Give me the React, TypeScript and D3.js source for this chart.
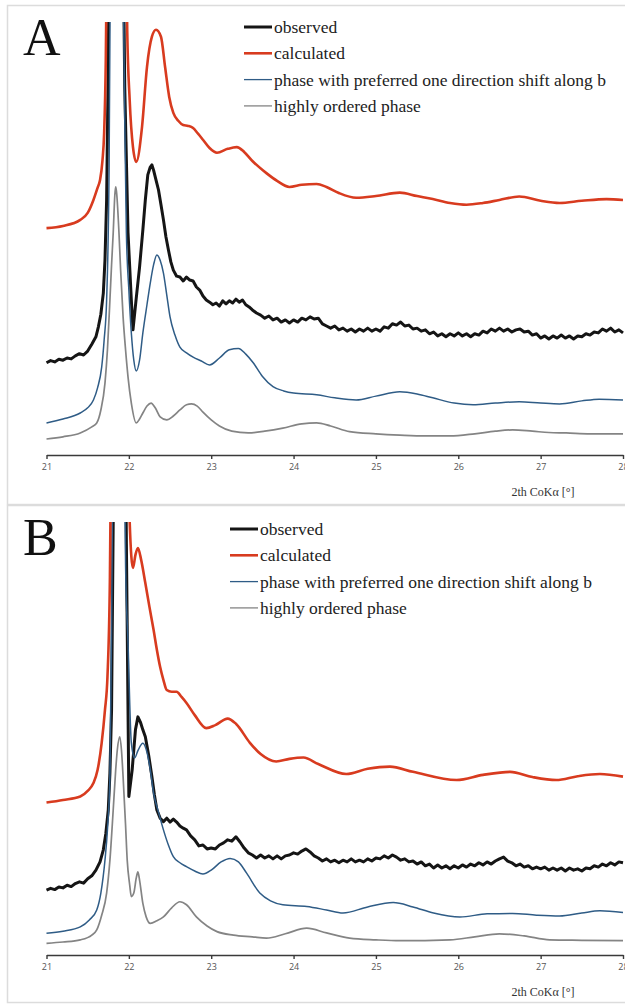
import React, { useEffect, useMemo, useRef } from 'react';
import * as d3 from 'd3';

type Pt = [number, number];

// 2θ axis ticks (degrees, Co Kα)
const THETA_TICKS = [21, 22, 23, 24, 25, 26, 27, 28];

const SERIES_LABELS = [
  'observed',
  'calculated',
  'phase with preferred one direction shift along b',
  'highly ordered phase',
];
const SERIES_COLORS = ['#151515', '#d83b1f', '#2f5c86', '#848484'];
const SERIES_WIDTHS = [3, 2.6, 1.5, 1.7];
const LEGEND_WIDTHS = [3, 2.6, 1.3, 1.3];

// ---------- Panel A (relative intensity, stacked with offsets) ----------
const obsA: Pt[] = [
  [21.0, 21.3], [21.05, 21.8], [21.1, 21.5], [21.15, 22.1], [21.2, 21.9], [21.25, 22.4], [21.3, 22.2],
  [21.35, 22.9], [21.4, 23.4], [21.45, 23.1], [21.5, 24.0], [21.55, 25.6], [21.6, 27.3], [21.63, 29.6],
  [21.66, 32.5], [21.69, 37.4], [21.71, 45.0], [21.73, 58.9], [21.75, 90], [21.77, 140], [21.85, 330],
  [21.92, 140], [21.95, 85], [21.99, 51.3], [22.03, 35.8], [22.05, 28.9], [22.09, 36.3], [22.13, 43.4],
  [22.17, 52.0], [22.2, 58.9], [22.23, 64.7], [22.26, 66.5], [22.28, 67.0], [22.3, 65.8], [22.33, 63.5],
  [22.36, 61.2], [22.39, 57.8], [22.42, 54.3], [22.45, 50.4], [22.48, 47.4], [22.51, 44.6], [22.54, 42.7],
  [22.58, 41.3], [22.62, 41.1], [22.66, 40.2], [22.7, 41.1], [22.74, 40.4], [22.78, 40.2], [22.82, 38.8],
  [22.86, 38.1], [22.9, 36.7], [22.94, 35.8], [22.98, 35.3], [23.02, 34.7], [23.06, 35.1], [23.1, 34.4],
  [23.14, 35.6], [23.18, 34.9], [23.22, 35.6], [23.26, 35.1], [23.3, 36.0], [23.34, 35.3], [23.38, 35.8],
  [23.42, 34.7], [23.46, 34.2], [23.5, 33.5], [23.55, 32.8], [23.6, 32.3], [23.65, 31.6], [23.7, 32.1],
  [23.75, 31.2], [23.8, 31.6], [23.85, 30.7], [23.9, 31.2], [23.95, 30.5], [24.0, 31.2], [24.05, 30.7],
  [24.1, 31.6], [24.15, 31.2], [24.2, 31.9], [24.25, 31.4], [24.3, 31.6], [24.35, 30.3], [24.4, 29.8],
  [24.45, 29.3], [24.5, 29.8], [24.55, 28.9], [24.6, 29.3], [24.65, 28.6], [24.7, 29.1], [24.75, 28.4],
  [24.8, 29.1], [24.85, 28.6], [24.9, 29.3], [24.95, 28.6], [25.0, 29.1], [25.05, 28.6], [25.1, 29.6],
  [25.15, 29.3], [25.2, 30.3], [25.25, 30.0], [25.3, 30.7], [25.35, 29.8], [25.4, 30.0], [25.45, 29.1],
  [25.5, 29.3], [25.55, 28.6], [25.6, 28.9], [25.65, 28.0], [25.7, 28.4], [25.75, 27.5], [25.8, 28.0],
  [25.85, 27.3], [25.9, 28.0], [25.95, 27.5], [26.0, 28.2], [26.05, 27.5], [26.1, 28.0], [26.15, 27.3],
  [26.2, 28.0], [26.25, 27.7], [26.3, 28.6], [26.35, 28.2], [26.4, 29.1], [26.45, 28.6], [26.5, 29.3],
  [26.55, 28.6], [26.6, 29.1], [26.65, 28.4], [26.7, 28.9], [26.75, 29.1], [26.8, 28.4], [26.85, 28.6],
  [26.9, 27.7], [26.95, 28.0], [27.0, 27.0], [27.05, 27.5], [27.1, 26.8], [27.15, 27.5], [27.2, 27.0],
  [27.25, 27.7], [27.3, 27.0], [27.35, 27.5], [27.4, 26.8], [27.45, 27.5], [27.5, 27.3], [27.55, 28.0],
  [27.6, 27.7], [27.65, 28.4], [27.7, 28.2], [27.75, 29.1], [27.8, 28.6], [27.85, 29.3], [27.9, 28.4],
  [27.95, 28.9], [28.0, 28.2],
];

const calcA: Pt[] = [
  [21.0, 52.4], [21.2, 52.9], [21.41, 54.3], [21.5, 55.9], [21.57, 58.9], [21.62, 61.7], [21.65, 63.5],
  [21.68, 68.1], [21.7, 74.4], [21.72, 91.2], [21.74, 130], [21.85, 300], [21.96, 130], [21.98, 98.2],
  [22.01, 82.0], [22.05, 71.1], [22.09, 67.7], [22.16, 75.8], [22.22, 89.6], [22.28, 96.6], [22.33, 98.2],
  [22.39, 96.6], [22.44, 89.6], [22.49, 82.7], [22.54, 79.0], [22.6, 77.2], [22.66, 76.2], [22.72, 76.0],
  [22.78, 75.5], [22.84, 74.2], [22.9, 72.8], [22.98, 70.9], [23.07, 69.8], [23.2, 70.7], [23.31, 71.1],
  [23.4, 70.0], [23.5, 67.9], [23.67, 65.1], [23.8, 63.3], [23.95, 61.9], [24.1, 62.4], [24.28, 62.6],
  [24.4, 61.9], [24.55, 60.5], [24.76, 59.4], [25.0, 59.8], [25.29, 60.6], [25.5, 59.8], [25.69, 59.1],
  [25.9, 58.2], [26.1, 57.8], [26.3, 58.2], [26.5, 58.9], [26.74, 59.7], [27.0, 58.7], [27.23, 58.2],
  [27.5, 58.7], [27.8, 59.1], [28.0, 58.9],
];

const shiftedA: Pt[] = [
  [21.0, 7.4], [21.2, 8.3], [21.41, 9.7], [21.5, 10.9], [21.57, 12.7], [21.62, 15.5], [21.67, 20.3],
  [21.7, 26.6], [21.73, 35.8], [21.76, 66.5], [21.78, 130], [21.85, 320], [21.92, 130], [21.95, 77.4],
  [21.97, 51.3], [22.0, 38.1], [22.03, 28.2], [22.06, 21.9], [22.09, 19.4], [22.13, 21.9], [22.17, 28.2],
  [22.22, 34.7], [22.26, 39.7], [22.3, 43.9], [22.34, 46.2], [22.38, 45.0], [22.42, 42.0], [22.46, 37.0],
  [22.5, 31.9], [22.56, 27.7], [22.62, 24.9], [22.7, 23.6], [22.78, 22.6], [22.88, 21.7], [22.98, 20.8],
  [23.1, 22.4], [23.22, 24.3], [23.33, 24.6], [23.42, 23.3], [23.51, 21.3], [23.62, 18.2], [23.75, 15.8],
  [23.88, 14.8], [24.0, 14.3], [24.28, 13.9], [24.5, 13.2], [24.76, 12.7], [25.0, 13.6], [25.29, 14.6],
  [25.5, 14.1], [25.69, 13.2], [25.95, 12.0], [26.18, 11.6], [26.45, 12.0], [26.74, 12.3], [27.0, 12.0],
  [27.23, 11.8], [27.5, 12.5], [27.71, 12.9], [28.0, 12.7],
];

const orderedA: Pt[] = [
  [21.0, 3.7], [21.2, 4.2], [21.41, 5.1], [21.55, 6.5], [21.61, 7.4], [21.66, 10.4], [21.71, 16.6],
  [21.74, 24.3], [21.77, 35.8], [21.79, 43.9], [21.81, 51.3], [21.83, 60.1], [21.84, 61.9], [21.85, 60.8],
  [21.88, 51.3], [21.9, 42.7], [21.93, 31.9], [21.96, 24.3], [21.99, 18.0], [22.03, 12.0], [22.09, 7.4],
  [22.13, 8.3], [22.17, 9.7], [22.22, 11.3], [22.27, 12.0], [22.32, 10.9], [22.38, 8.8], [22.46, 8.1],
  [22.54, 9.0], [22.62, 10.4], [22.7, 11.6], [22.76, 11.8], [22.83, 11.3], [22.9, 9.9], [23.0, 8.1],
  [23.1, 6.7], [23.25, 5.5], [23.45, 5.1], [23.65, 5.5], [23.87, 6.2], [24.1, 7.2], [24.28, 7.4],
  [24.45, 6.7], [24.68, 5.4], [25.0, 4.9], [25.29, 4.6], [25.6, 4.4], [25.9, 4.4], [26.2, 4.9],
  [26.45, 5.5], [26.66, 5.8], [26.9, 5.5], [27.1, 5.2], [27.31, 5.1], [27.6, 4.9], [28.0, 4.9],
];

// ---------- Panel B ----------
const obsB: Pt[] = [
  [21.0, 15.0], [21.05, 15.4], [21.1, 15.1], [21.15, 15.7], [21.2, 15.5], [21.25, 16.1], [21.3, 15.8],
  [21.35, 16.5], [21.4, 16.9], [21.45, 16.6], [21.5, 17.6], [21.55, 18.3], [21.6, 19.6], [21.65, 21.5],
  [21.69, 24.3], [21.72, 28.0], [21.75, 33.5], [21.77, 42.0], [21.79, 56.6], [21.81, 100], [21.83, 140],
  [21.9, 330], [21.95, 140], [21.97, 95], [22.0, 36.6], [22.04, 42.7], [22.08, 52.0], [22.11, 55.0],
  [22.14, 53.8], [22.17, 52.0], [22.2, 50.4], [22.24, 46.2], [22.28, 41.2], [22.31, 37.0], [22.34, 33.5],
  [22.38, 31.6], [22.42, 30.8], [22.46, 31.6], [22.5, 30.7], [22.54, 31.4], [22.58, 30.7], [22.62, 29.8],
  [22.66, 29.3], [22.7, 28.9], [22.75, 27.5], [22.8, 26.6], [22.85, 25.2], [22.9, 25.4], [22.95, 24.5],
  [23.0, 24.7], [23.05, 24.5], [23.1, 25.4], [23.15, 25.9], [23.2, 26.6], [23.25, 26.3], [23.3, 27.3],
  [23.35, 26.1], [23.4, 24.7], [23.45, 23.6], [23.5, 23.1], [23.55, 22.4], [23.6, 23.1], [23.65, 22.4],
  [23.7, 22.9], [23.75, 22.2], [23.8, 22.9], [23.85, 22.2], [23.9, 22.9], [23.95, 23.1], [24.0, 23.6],
  [24.05, 23.3], [24.1, 24.0], [24.15, 24.5], [24.2, 23.8], [24.25, 22.9], [24.3, 22.4], [24.35, 21.7],
  [24.4, 22.2], [24.45, 21.5], [24.5, 21.9], [24.55, 21.3], [24.6, 21.9], [24.65, 21.5], [24.7, 22.2],
  [24.75, 21.5], [24.8, 21.9], [24.85, 21.5], [24.9, 22.2], [24.95, 21.7], [25.0, 22.4], [25.05, 22.2],
  [25.1, 22.9], [25.15, 22.4], [25.2, 23.1], [25.25, 22.6], [25.3, 21.9], [25.35, 22.2], [25.4, 21.5],
  [25.45, 21.7], [25.5, 21.0], [25.55, 21.5], [25.6, 20.6], [25.65, 21.0], [25.7, 20.1], [25.75, 20.8],
  [25.8, 20.1], [25.85, 20.6], [25.9, 19.9], [25.95, 20.6], [26.0, 20.1], [26.05, 20.8], [26.1, 20.3],
  [26.15, 21.0], [26.2, 20.6], [26.25, 21.3], [26.3, 20.8], [26.35, 21.5], [26.4, 21.0], [26.45, 21.7],
  [26.5, 22.2], [26.55, 22.6], [26.6, 21.7], [26.65, 21.3], [26.7, 20.6], [26.75, 21.0], [26.8, 20.3],
  [26.85, 20.6], [26.9, 19.9], [26.95, 20.3], [27.0, 19.9], [27.05, 20.3], [27.1, 19.6], [27.15, 20.1],
  [27.2, 19.6], [27.25, 20.1], [27.3, 19.4], [27.35, 20.1], [27.4, 19.6], [27.45, 19.9], [27.5, 19.4],
  [27.55, 20.1], [27.6, 19.9], [27.65, 20.6], [27.7, 20.3], [27.75, 21.0], [27.8, 20.6], [27.85, 21.3],
  [27.9, 20.8], [27.95, 21.5], [28.0, 21.3],
];

const calcB: Pt[] = [
  [21.0, 35.2], [21.2, 35.8], [21.41, 36.6], [21.5, 37.9], [21.57, 39.7], [21.62, 42.7], [21.67, 49.0],
  [21.71, 56.6], [21.74, 64.2], [21.77, 87.3], [21.79, 130], [21.9, 330], [21.99, 130], [22.01, 100],
  [22.05, 89.4], [22.08, 92.4], [22.11, 94.0], [22.15, 91.2], [22.2, 85.9], [22.25, 80.4], [22.3, 75.1],
  [22.34, 70.5], [22.38, 66.5], [22.42, 63.5], [22.46, 61.2], [22.52, 60.8], [22.58, 60.8], [22.64, 59.6],
  [22.7, 58.2], [22.8, 55.4], [22.94, 52.4], [23.05, 53.1], [23.2, 54.6], [23.3, 53.4], [23.47, 49.0],
  [23.6, 46.4], [23.79, 44.7], [23.95, 45.3], [24.12, 45.6], [24.3, 44.1], [24.64, 41.8], [24.9, 43.0],
  [25.17, 43.5], [25.45, 42.3], [25.98, 40.4], [26.3, 41.6], [26.63, 42.3], [26.9, 41.1], [27.19, 40.4],
  [27.45, 41.3], [27.72, 41.8], [28.0, 41.2],
];

const shiftedB: Pt[] = [
  [21.0, 5.0], [21.2, 5.5], [21.41, 6.5], [21.52, 8.1], [21.61, 10.4], [21.66, 14.3], [21.71, 21.9],
  [21.74, 28.9], [21.77, 41.2], [21.79, 75], [21.81, 130], [21.88, 330], [21.94, 130], [21.96, 90],
  [21.99, 72.1], [22.03, 49.0], [22.07, 45.5], [22.11, 47.2], [22.17, 48.9], [22.22, 46.8], [22.26, 42.8],
  [22.3, 37.4], [22.36, 33.0], [22.42, 28.9], [22.48, 25.4], [22.54, 22.7], [22.62, 21.3], [22.7, 20.4],
  [22.8, 19.4], [22.9, 18.7], [23.0, 19.6], [23.12, 21.5], [23.23, 22.3], [23.33, 21.5], [23.43, 18.9],
  [23.59, 14.3], [23.72, 12.5], [23.87, 11.6], [24.16, 11.2], [24.4, 10.4], [24.6, 9.7], [24.9, 11.1],
  [25.21, 12.1], [25.45, 11.1], [25.7, 9.7], [26.02, 8.8], [26.35, 9.5], [26.66, 9.6], [26.95, 9.2],
  [27.23, 9.0], [27.5, 9.7], [27.72, 10.2], [28.0, 9.8],
];

const orderedB: Pt[] = [
  [21.0, 2.7], [21.2, 3.0], [21.41, 3.5], [21.55, 4.6], [21.61, 5.8], [21.67, 9.2], [21.73, 14.3],
  [21.77, 21.9], [21.81, 33.5], [21.84, 42.7], [21.86, 47.4], [21.89, 50.4], [21.91, 47.4], [21.93, 41.2],
  [21.96, 30.0], [21.98, 21.9], [22.01, 16.2], [22.03, 13.5], [22.06, 14.3], [22.09, 17.8], [22.11, 19.2],
  [22.13, 17.3], [22.17, 11.9], [22.21, 8.8], [22.26, 7.3], [22.34, 7.9], [22.42, 8.8], [22.52, 10.9],
  [22.62, 12.3], [22.7, 11.6], [22.82, 8.8], [22.95, 6.7], [23.07, 5.4], [23.27, 4.6], [23.5, 4.2],
  [23.67, 3.9], [23.9, 4.9], [24.16, 6.2], [24.4, 5.1], [24.68, 3.9], [25.0, 3.5], [25.29, 3.3],
  [25.9, 3.5], [26.2, 4.2], [26.5, 4.9], [26.8, 4.4], [27.11, 3.5], [27.5, 3.4], [28.0, 3.3],
];

interface PanelCfg {
  letter: string;
  top: number;
  legendX: number;
  legendY: number;
  series: Pt[][]; // observed, calculated, shifted phase, ordered phase
}

const PANELS: PanelCfg[] = [
  { letter: 'A', top: 0, legendX: 244, legendY: 27, series: [obsA, calcA, shiftedA, orderedA] },
  { letter: 'B', top: 500, legendX: 230, legendY: 29, series: [obsB, calcB, shiftedB, orderedB] },
];

const WIDTH = 625;
const HEIGHT = 1005;
const SERIF = '"Liberation Serif", "Times New Roman", serif';

function XAxis({ x, y }: { x: d3.ScaleLinear<number, number>; y: number }) {
  const ref = useRef<SVGGElement>(null);
  useEffect(() => {
    if (!ref.current) return;
    const g = d3.select(ref.current);
    g.call(
      d3
        .axisBottom(x)
        .tickValues(THETA_TICKS)
        .tickFormat(d3.format('d'))
        .tickSize(4)
        .tickSizeOuter(0)
        .tickPadding(5)
    );
    g.select('.domain').attr('stroke', '#3a3a3a').attr('stroke-width', 1.4);
    g.selectAll('.tick line').attr('stroke', '#3a3a3a').attr('stroke-width', 1.4);
    g.selectAll('.tick text')
      .attr('fill', '#555')
      .attr('font-size', 9)
      .attr('font-family', '"Open Sans", sans-serif');
  }, [x]);
  return <g ref={ref} transform={`translate(0,${y})`} />;
}

function Panel({ cfg }: { cfg: PanelCfg }) {
  const axisY = cfg.top + 455;
  const plotTop = cfg.top + 22;
  const x = useMemo(() => d3.scaleLinear().domain([21, 28]).range([46.5, 623]), []);
  const y = useMemo(() => d3.scaleLinear().domain([0, 100]).range([axisY, plotTop]), [axisY, plotTop]);

  const smooth = d3
    .line<Pt>()
    .x((d) => x(d[0]))
    .y((d) => y(d[1]))
    .curve(d3.curveMonotoneX);
  const raw = d3
    .line<Pt>()
    .x((d) => x(d[0]))
    .y((d) => y(d[1]));

  const clipId = `plot-clip-${cfg.letter}`;
  // drawing order: observed, ordered, shifted, calculated
  const order = [0, 3, 2, 1];

  return (
    <g>
      <rect
        x={7.5}
        y={cfg.top + 5.5}
        width={660}
        height={cfg.letter === 'A' ? 499 : 497}
        fill="#fff"
        stroke="#dcdcdc"
        strokeWidth={1.5}
      />
      <defs>
        <clipPath id={clipId}>
          <rect x={30} y={plotTop} width={600} height={axisY - plotTop + 4} />
        </clipPath>
      </defs>
      <g clipPath={`url(#${clipId})`}>
        {order.map((i) => (
          <path
            key={i}
            d={(i === 0 ? raw : smooth)(cfg.series[i]) || ''}
            fill="none"
            stroke={SERIES_COLORS[i]}
            strokeWidth={SERIES_WIDTHS[i]}
            strokeLinejoin="round"
          />
        ))}
      </g>
      <XAxis x={x} y={axisY} />
      <text
        x={543}
        y={cfg.top + 496}
        textAnchor="middle"
        fontFamily={SERIF}
        fontSize={12}
        fill="#333"
      >
        2th CoKα [°]
      </text>
      <text x={23} y={cfg.top + 55} fontFamily={SERIF} fontSize={52} fill="#111">
        {cfg.letter}
      </text>
      {SERIES_LABELS.map((label, i) => {
        const ly = cfg.top + cfg.legendY + i * 26.3;
        return (
          <g key={label}>
            <line
              x1={cfg.legendX}
              x2={cfg.legendX + 28}
              y1={ly}
              y2={ly}
              stroke={SERIES_COLORS[i]}
              strokeWidth={LEGEND_WIDTHS[i]}
            />
            <text
              x={cfg.legendX + 30}
              y={ly + 6}
              fontFamily={SERIF}
              fontSize={17.5}
              fill="#222"
            >
              {label}
            </text>
          </g>
        );
      })}
    </g>
  );
}

export default function App() {
  return (
    <svg
      width={WIDTH}
      height={HEIGHT}
      viewBox={`0 0 ${WIDTH} ${HEIGHT}`}
      style={{ position: 'absolute', left: 0, top: 0, background: '#fff' }}
    >
      <rect x={0} y={0} width={WIDTH} height={HEIGHT} fill="#fff" />
      {PANELS.map((p) => (
        <Panel key={p.letter} cfg={p} />
      ))}
    </svg>
  );
}
